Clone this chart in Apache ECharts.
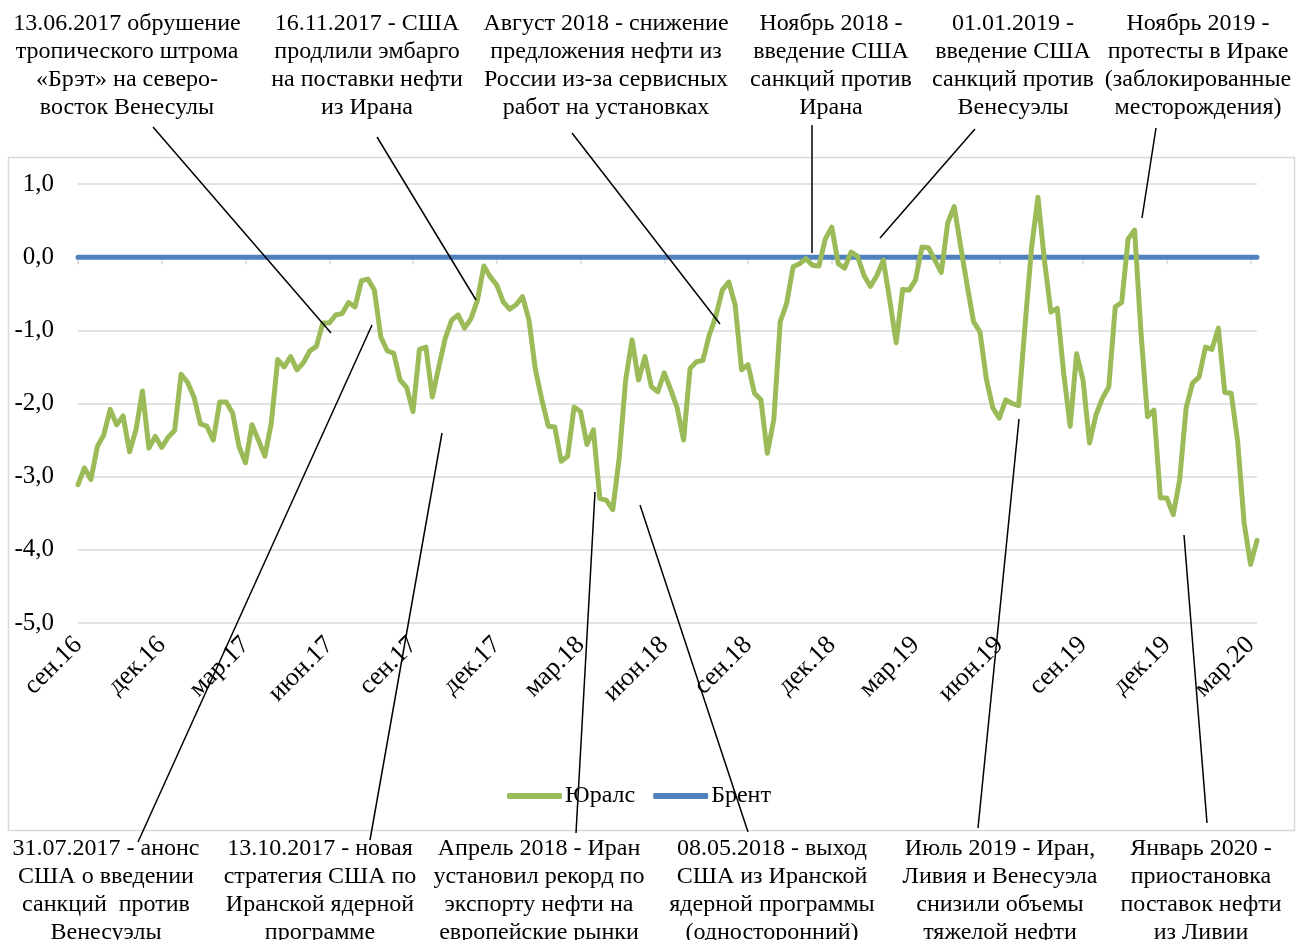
<!DOCTYPE html>
<html>
<head>
<meta charset="utf-8">
<script src="https://cdn.jsdelivr.net/npm/echarts@6/dist/echarts.min.js"></script>
<style>
html,body{margin:0;padding:0;background:#fff;}
#c{width:1297px;height:940px;}
</style>
</head>
<body>
<div id="c"></div>
<script>
// ---- DATA ----
var tickLabels = ['сен.16','дек.16','мар.17','июн.17','сен.17','дек.17','мар.18','июн.18','сен.18','дек.18','мар.19','июн.19','сен.19','дек.19','мар.20'];
var weeksPerTick = 13;
var seriesNames = ['Юралс', 'Брент'];
var urals = [
-3.11,-2.88,-3.04,-2.59,-2.43,-2.08,-2.29,-2.17,-2.66,-2.36,
-1.83,-2.61,-2.45,-2.60,-2.46,-2.37,-1.60,-1.71,-1.91,-2.28,
-2.31,-2.50,-1.98,-1.98,-2.13,-2.59,-2.81,-2.29,-2.50,-2.72,
-2.27,-1.40,-1.50,-1.36,-1.54,-1.44,-1.28,-1.22,-0.90,-0.90,
-0.79,-0.77,-0.62,-0.68,-0.32,-0.30,-0.45,-1.09,-1.28,-1.31,
-1.68,-1.78,-2.11,-1.26,-1.23,-1.91,-1.50,-1.11,-0.86,-0.79,
-0.97,-0.84,-0.59,-0.12,-0.27,-0.38,-0.61,-0.71,-0.65,-0.54,
-0.86,-1.54,-1.95,-2.31,-2.32,-2.79,-2.72,-2.05,-2.11,-2.56,
-2.36,-3.30,-3.32,-3.45,-2.75,-1.68,-1.13,-1.68,-1.36,-1.77,
-1.84,-1.58,-1.81,-2.06,-2.50,-1.52,-1.43,-1.41,-1.06,-0.81,
-0.45,-0.34,-0.65,-1.54,-1.47,-1.86,-1.95,-2.68,-2.22,-0.88,
-0.63,-0.13,-0.09,-0.02,-0.11,-0.12,0.25,0.41,-0.09,-0.15,
0.07,0.01,-0.25,-0.40,-0.25,-0.04,-0.59,-1.17,-0.44,-0.45,
-0.31,0.14,0.13,-0.04,-0.21,0.47,0.69,0.15,-0.38,-0.88,
-1.02,-1.67,-2.06,-2.20,-1.95,-2.00,-2.03,-0.93,0.12,0.82,
-0.04,-0.75,-0.70,-1.59,-2.31,-1.32,-1.68,-2.54,-2.16,-1.93,
-1.77,-0.68,-0.62,0.25,0.37,-1.04,-2.18,-2.09,-3.29,-3.29,
-3.52,-3.04,-2.06,-1.72,-1.64,-1.23,-1.26,-0.97,-1.85,-1.86,
-2.52,-3.63,-4.20,-3.87
];
var brent = urals.map(function(){ return 0; }); // Brent is the zero reference
var weeks = urals.map(function(v, i){ return 'W' + i; });

var topNotes = [
  '13.06.2017 обрушение\nтропического штрома\n«Брэт» на северо-\nвосток Венесулы',
  '16.11.2017 - США\nпродлили эмбарго\nна поставки нефти\nиз Ирана',
  'Август 2018 - снижение\nпредложения нефти из\nРоссии из-за сервисных\nработ на установках',
  'Ноябрь 2018 -\nвведение США\nсанкций против\nИрана',
  '01.01.2019 -\nвведение США\nсанкций против\nВенесуэлы',
  'Ноябрь 2019 -\nпротесты в Ираке\n(заблокированные\nместорождения)'
];
var bottomNotes = [
  '31.07.2017 - анонс\nСША о введении\nсанкций  против\nВенесуэлы',
  '13.10.2017 - новая\nстратегия США по\nИранской ядерной\nпрограмме',
  'Апрель 2018 - Иран\nустановил рекорд по\nэкспорту нефти на\nевропейские рынки',
  '08.05.2018 - выход\nСША из Иранской\nядерной программы\n(односторонний)',
  'Июль 2019 - Иран,\nЛивия и Венесуэла\nснизили объемы\nтяжелой нефти',
  'Январь 2020 -\nприостановка\nпоставок нефти\nиз Ливии'
];

// ---- LAYOUT (annotation placement) ----
var topNoteX = [127, 367, 606, 831, 1013, 1198];
var bottomNoteX = [106, 320, 539, 772, 1000, 1201];
var leaders = [
  [153,127,331,333],[377,137,476,300],[572,133,720,324],[812,125,812,253],[975,129,880,238],[1156,128,1142,218],
  [138,842,372,325],[370,840,442,433],[576,833,595,492],[748,832,640,505],[978,828,1019,419],[1207,823,1184,535]
];

var FONT = '"Liberation Serif", "Times New Roman", serif';
var graphics = [];
graphics.push({type:'rect', shape:{x:8.5,y:157.5,width:1286,height:673}, style:{fill:'none', stroke:'#d9d9d9', lineWidth:1.5}, z:-1, silent:true});
topNotes.forEach(function(t, i){
  graphics.push({type:'text', x: topNoteX[i], y: 10, style:{text:t, font:'24px ' + FONT, fill:'#000', textAlign:'center', textVerticalAlign:'top', lineHeight:28}, z:10});
});
bottomNotes.forEach(function(t, i){
  graphics.push({type:'text', x: bottomNoteX[i], y: 835, style:{text:t, font:'24px ' + FONT, fill:'#000', textAlign:'center', textVerticalAlign:'top', lineHeight:28}, z:10});
});
leaders.forEach(function(l){
  graphics.push({type:'line', shape:{x1:l[0],y1:l[1],x2:l[2],y2:l[3]}, style:{stroke:'#000', lineWidth:1.5}, z:20});
});

var tickFn = function(idx){ return idx % weeksPerTick === 0; };

var chart = echarts.init(document.getElementById('c'));
chart.setOption({
  animation: false,
  backgroundColor: '#fff',
  grid: {left: 78, right: 40, top: 184, bottom: 317, containLabel: false},
  legend: {
    data: [{name: seriesNames[0], icon: 'roundRect'}, {name: seriesNames[1], icon: 'roundRect'}],
    left: 502, top: 779,
    itemWidth: 55, itemHeight: 6, itemGap: 18,
    textStyle: {fontFamily: FONT, fontSize: 24, color: '#000', padding: [0, 0, 0, -2]}
  },
  xAxis: [{
    type: 'category', data: weeks, boundaryGap: false, position: 'bottom',
    axisLine: {show: false, onZero: false},
    axisTick: {show: false},
    axisLabel: {
      interval: tickFn, rotate: 45, margin: 18,
      fontFamily: FONT, fontSize: 26, color: '#000',
      formatter: function(v, idx){ return tickLabels[Math.round(idx / weeksPerTick)] || ''; }
    },
    splitLine: {show: false}
  }, {
    type: 'category', data: weeks, boundaryGap: false, position: 'bottom',
    axisLine: {show: true, onZero: true, lineStyle: {color: '#d9d9d9', width: 1.5}},
    axisTick: {show: true, interval: tickFn, length: 7, lineStyle: {color: '#d9d9d9', width: 1.5}},
    axisLabel: {show: false},
    splitLine: {show: false}
  }],
  yAxis: {
    type: 'value', min: -5, max: 1, interval: 1,
    axisLine: {show: false}, axisTick: {show: false},
    axisLabel: {
      margin: 24, fontFamily: FONT, fontSize: 25, color: '#000',
      formatter: function(v){ return v.toFixed(1).replace('.', ','); }
    },
    splitLine: {lineStyle: {color: '#d9d9d9', width: 1.5}}
  },
  series: [{
    name: seriesNames[0], type: 'line', data: urals, xAxisIndex: 0,
    symbol: 'none', smooth: false,
    lineStyle: {color: '#9bbb59', width: 5, cap: 'round', join: 'round'},
    itemStyle: {color: '#9bbb59'}, z: 3
  }, {
    name: seriesNames[1], type: 'line', data: brent, xAxisIndex: 0,
    symbol: 'none',
    lineStyle: {color: '#4f81bd', width: 5, cap: 'round'},
    itemStyle: {color: '#4f81bd'}, z: 2
  }],
  graphic: graphics
});
</script>
</body>
</html>
